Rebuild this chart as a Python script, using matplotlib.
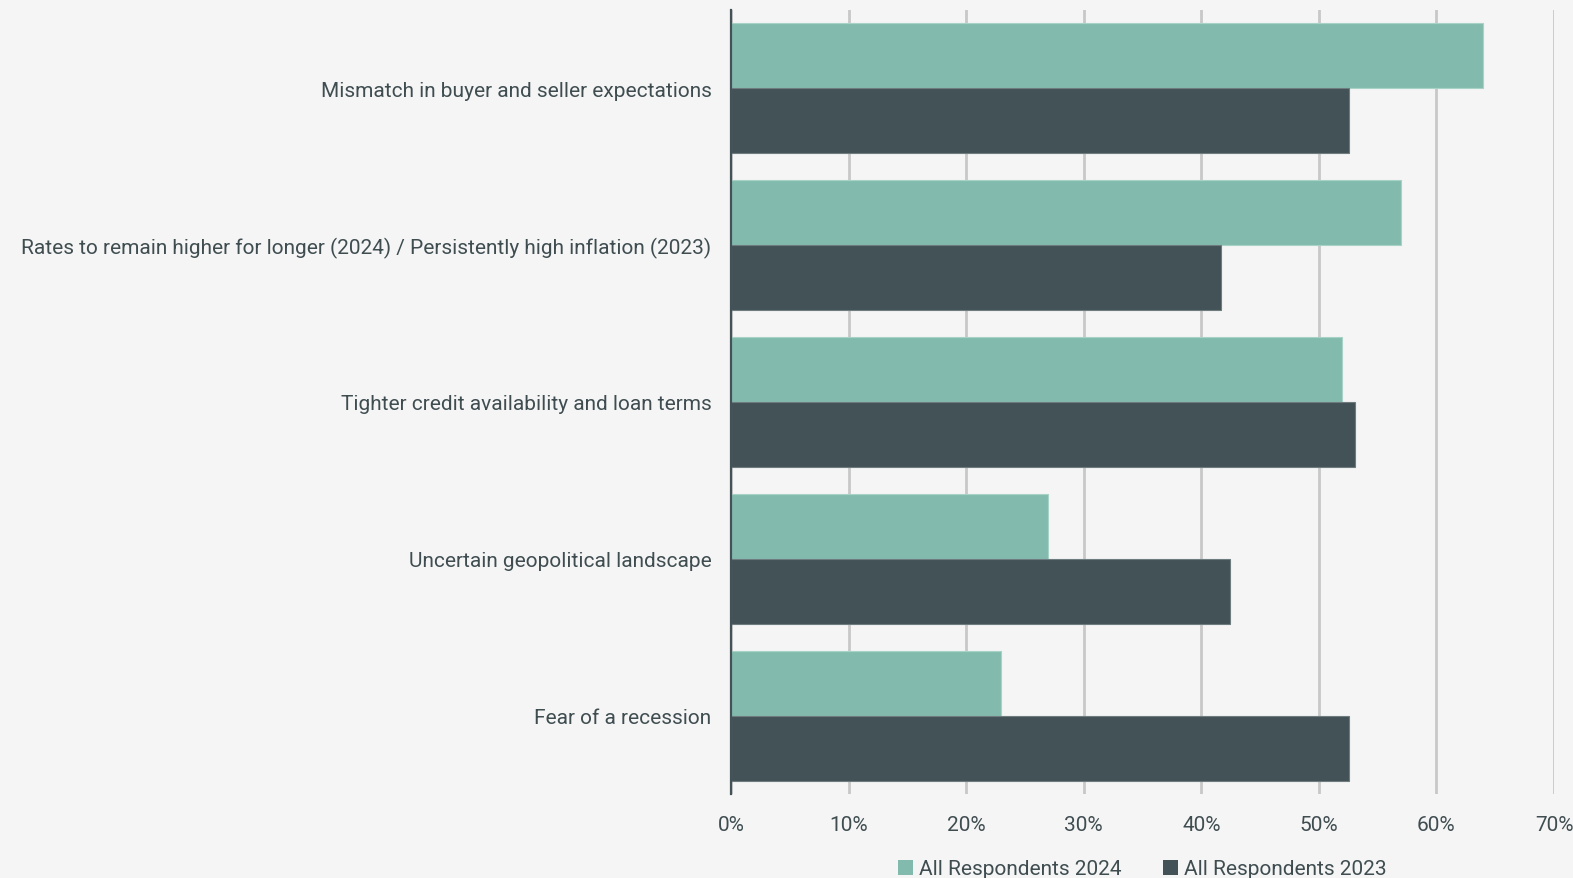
import matplotlib
matplotlib.use("Agg")
import matplotlib.pyplot as plt
import numpy as np
from matplotlib.patches import Patch

categories = [
    "Mismatch in buyer and seller expectations",
    "Rates to remain higher for longer (2024) / Persistently high inflation (2023)",
    "Tighter credit availability and loan terms",
    "Uncertain geopolitical landscape",
    "Fear of a recession",
]
series_2024 = [64, 57, 52, 27, 23]
series_2023 = [52.6, 41.7, 53.1, 42.4, 52.6]
series_names = ["All Respondents 2024", "All Respondents 2023"]
xticks = [0, 10, 20, 30, 40, 50, 60, 70]
xtick_labels = ["0%", "10%", "20%", "30%", "40%", "50%", "60%", "70%"]

BG = "#F5F5F5"
C24 = "#82BBAD"
C23 = "#435257"
TXT = "#3F4D51"
GRID = "#C8C8C8"

plt.rcParams["font.family"] = ["Roboto", "DejaVu Sans"]

fig = plt.figure(figsize=(15.73, 8.79), dpi=100, facecolor=BG)
ax = fig.add_axes([731 / 1573, 1 - 795 / 879, (1554 - 731) / 1573, (795 - 11) / 879])
ax.set_facecolor(BG)

y = np.arange(len(categories))
h = 0.415
ax.barh(y - h / 2, series_2024, height=h, color=C24, edgecolor="#A9D2C7", linewidth=0.8, zorder=3)
ax.barh(y + h / 2, series_2023, height=h, color=C23, edgecolor="#6E7B7F", linewidth=0.8, zorder=3)

ax.set_ylim(len(categories) - 0.5, -0.5)
ax.set_xlim(0, 70)
ax.set_yticks(y)
ax.set_yticklabels(categories, fontsize=15, color=TXT)
ax.set_xticks(xticks)
ax.set_xticklabels(xtick_labels, fontsize=15, color=TXT)
ax.tick_params(axis="y", length=0, pad=14)
ax.tick_params(axis="x", length=0, pad=15)
ax.xaxis.grid(True, color=GRID, linewidth=2, zorder=0)
ax.set_axisbelow(True)
for s in ["top", "right", "bottom"]:
    ax.spines[s].set_visible(False)
ax.spines["left"].set_color(C23)
ax.spines["left"].set_linewidth(1.6)
ax.spines["left"].set_zorder(4)

handles = [Patch(facecolor=C24), Patch(facecolor=C23)]
leg = fig.legend(handles, series_names, loc="center", bbox_to_anchor=((731 + 1554) / 2 / 1573, 1 - 870 / 879),
                 ncol=2, frameon=False, fontsize=15, handlelength=0.7, handleheight=0.7,
                 handletextpad=0.3, columnspacing=2.0)
for t in leg.get_texts():
    t.set_color(TXT)

fig.savefig("out.png", dpi=100, facecolor=BG)
